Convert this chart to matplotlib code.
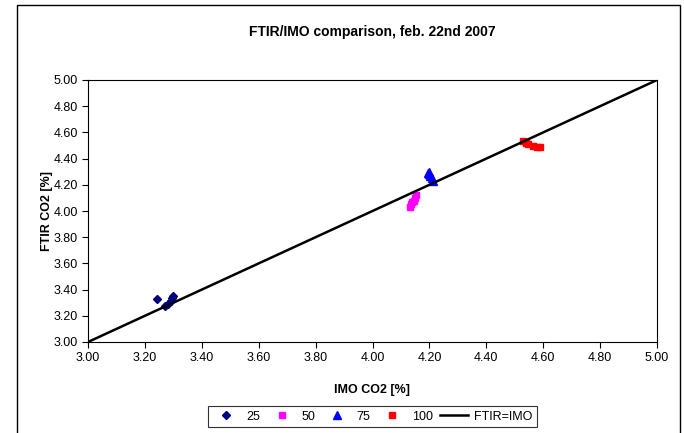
import numpy as np
import matplotlib.pyplot as plt
from matplotlib.patches import Rectangle

plt.rcParams['font.family'] = ['Liberation Sans', 'DejaVu Sans']

# IMO CO2 (x) vs FTIR CO2 (y), per flow setting
imo_25 = [3.243, 3.271, 3.281, 3.292, 3.295, 3.299]
ftir_25 = [3.328, 3.275, 3.290, 3.313, 3.336, 3.351]
imo_50 = [4.132, 4.135, 4.140, 4.145, 4.150, 4.153]
ftir_50 = [4.030, 4.050, 4.065, 4.080, 4.100, 4.120]
imo_75 = [4.195, 4.200, 4.203, 4.208, 4.212, 4.200]
ftir_75 = [4.290, 4.300, 4.270, 4.250, 4.230, 4.280]
imo_100 = [4.530, 4.540, 4.548, 4.565, 4.578, 4.590]
ftir_100 = [4.532, 4.520, 4.512, 4.495, 4.490, 4.487]
ref_line = [3.0, 5.0]

fig = plt.figure(figsize=(6.84, 4.33), dpi=100)
ax = fig.add_axes([88/684, 1-342/433, (657-88)/684, (342-80)/433])

# outer chart border
fig.patches.append(Rectangle((17/684, -0.01), (680-17)/684, 1-5/433+0.01,
                             transform=fig.transFigure, fill=False,
                             edgecolor='black', linewidth=1.0))

ax.plot(imo_25, ftir_25, 'D', color='#000080', markersize=4.5, linestyle='none', label='25')
ax.plot(imo_50, ftir_50, 's', color='#FF00FF', markersize=5, linestyle='none', label='50')
ax.plot(imo_75, ftir_75, '^', color='#0000FF', markersize=5.5, linestyle='none', label='75')
ax.plot(imo_100, ftir_100, 's', color='#FF0000', markersize=5, linestyle='none', label='100')
ax.plot(ref_line, ref_line, color='black', linewidth=1.8, label='FTIR=IMO')

ticks = np.arange(3.0, 5.01, 0.2)
ax.set_xlim(3.0, 5.0)
ax.set_ylim(3.0, 5.0)
ax.set_xticks(ticks)
ax.set_yticks(ticks)
ax.set_xticklabels(['%.2f' % v for v in ticks])
ax.set_yticklabels(['%.2f' % v for v in ticks])
ax.tick_params(direction='out', length=4, labelsize=9, width=0.8)
for s in ax.spines.values():
    s.set_linewidth(0.8)

ax.set_xlabel('IMO CO2 [%]', fontsize=9, fontweight='bold', labelpad=14)
ax.set_ylabel('FTIR CO2 [%]', fontsize=9, fontweight='bold', labelpad=0)
ax.set_title('FTIR/IMO comparison, feb. 22nd 2007', fontsize=10, fontweight='bold', pad=32)

leg = ax.legend(loc='center', bbox_to_anchor=(0.5, -0.285), ncol=5, fontsize=9,
                frameon=True, fancybox=False, edgecolor='black', handlelength=2.2,
                columnspacing=0.6, handletextpad=0.5, borderpad=0.35)
leg.get_frame().set_linewidth(0.8)

fig.savefig('out.png', dpi=100)
